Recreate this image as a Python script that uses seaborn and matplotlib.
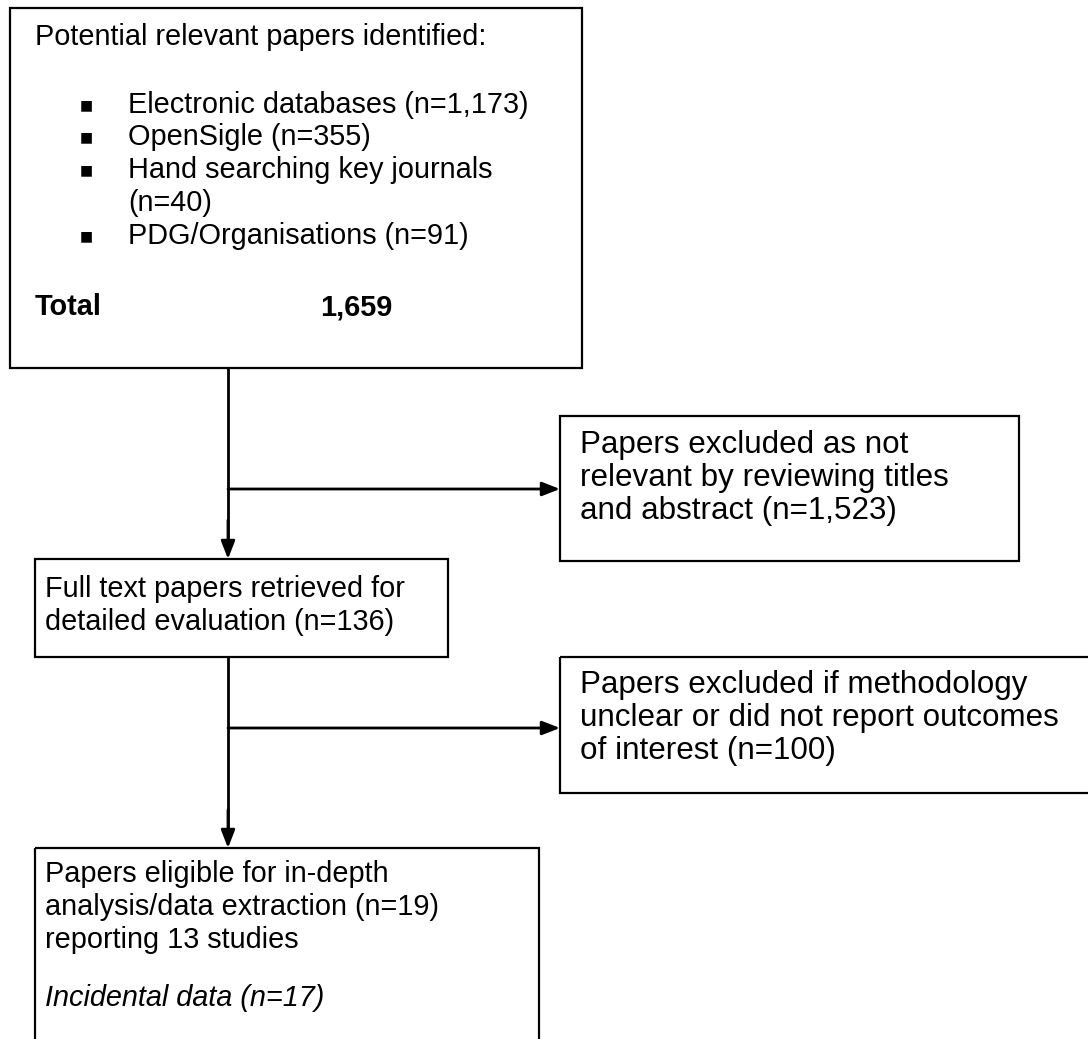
import matplotlib
matplotlib.use("Agg")
import matplotlib.pyplot as plt
from matplotlib.patches import Rectangle
import seaborn as sns

sns.set_theme(style="white")
plt.rcParams['font.family'] = ['Liberation Sans', 'DejaVu Sans']
plt.rcParams['text.color'] = 'black'

# flowchart content
title_top = "Potential relevant papers identified:"
sources = ["Electronic databases (n=1,173)", "OpenSigle (n=355)",
           "Hand searching key journals\n(n=40)", "PDG/Organisations (n=91)"]
total_label = "Total"
total_value = "1,659"
excl1_text = "Papers excluded as not\nrelevant by reviewing titles\nand abstract (n=1,523)"
full_text = "Full text papers retrieved for\ndetailed evaluation (n=136)"
excl2_text = "Papers excluded if methodology\nunclear or did not report outcomes\nof interest (n=100)"
final_text = "Papers eligible for in-depth\nanalysis/data extraction (n=19)\nreporting 13 studies"
final_note = "Incidental data (n=17)"

W, H = 1088, 1039
fig = plt.figure(figsize=(W / 100, H / 100), dpi=100)
ax = fig.add_axes([0, 0, 1, 1])
ax.set_xlim(0, W)
ax.set_ylim(H, 0)
ax.axis('off')

fs = 20.8      # main column boxes
fs_side = 22.6  # exclusion boxes
lw = 1.6


def box(x0, y0, x1, y1):
    ax.add_patch(Rectangle((x0, y0), x1 - x0, y1 - y0, fill=False,
                           edgecolor='black', lw=lw, clip_on=False))


def arrow(x0, y0, x1, y1):
    ax.annotate("", xy=(x1, y1), xytext=(x0, y0),
                arrowprops=dict(arrowstyle="-|>,head_length=0.9,head_width=0.35",
                                color='black', lw=2, shrinkA=0, shrinkB=0))


def block(x, y, s, size=fs, **kw):
    ax.text(x, y, s, fontsize=size, va='center', ha='left', **kw)


# boxes
box(10, 8, 582, 368)
box(560, 416, 1019, 561)
box(35, 559, 448, 657)
box(560, 657, 1095, 793)
box(35, 848, 539, 1045)

# top box text
block(35, 37, title_top)
yb = [105, 137, 170, 203, 236]
k = 0
for s in sources:
    for j, part in enumerate(s.split("\n")):
        if j == 0:
            ax.text(86, yb[k], "\u25a0", fontsize=10, va='center', ha='center',
                    family='DejaVu Sans')
        block(128, yb[k], part)
        k += 1
block(35, 307, total_label, fontweight='bold')
block(320, 307, total_value, fontweight='bold')


# other boxes, one line every 33 px
def lines(x, y0, s, size=fs, **kw):
    for i, part in enumerate(s.split("\n")):
        block(x, y0 + 33 * i, part, size=size, **kw)


lines(580, 445, excl1_text, size=fs_side)
lines(45, 589, full_text)
lines(580, 685, excl2_text, size=fs_side)
lines(45, 874, final_text)
block(45, 998, final_note, style='italic')

# connectors
xv = 228
ax.plot([xv, xv], [368, 540], color='black', lw=2)
arrow(xv, 520, xv, 559)
arrow(xv, 489, 560, 489)
ax.plot([xv, xv], [657, 830], color='black', lw=2)
arrow(xv, 810, xv, 848)
arrow(xv, 728, 560, 728)

fig.savefig("out.png", dpi=100)
